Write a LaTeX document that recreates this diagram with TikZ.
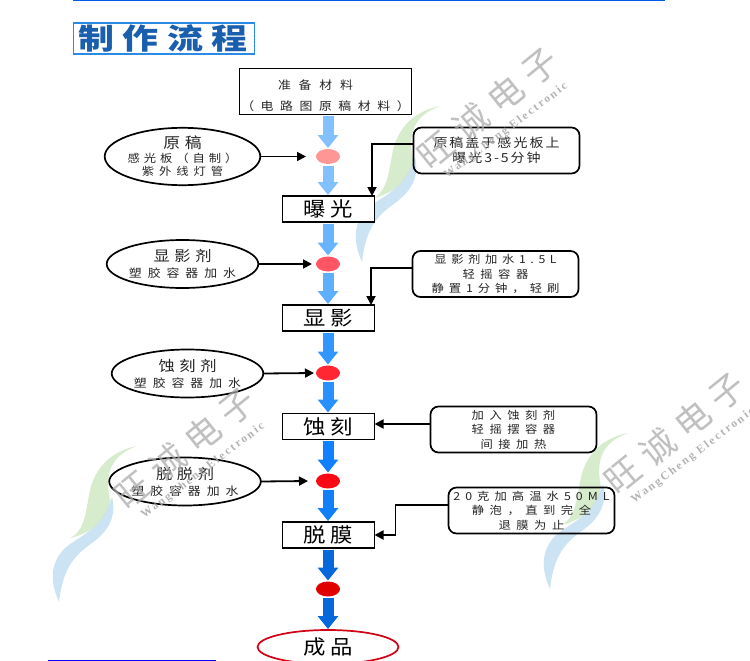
\documentclass[tikz,border=0pt]{standalone}
\usepackage{fontspec}
\usetikzlibrary{shapes.geometric,arrows.meta}
\setmainfont{Noto Sans CJK SC}
\newfontfamily\wmserif{Liberation Serif}
\newcommand{\lsp}[2]{\fontsize{#1}{#1}\selectfont\addfontfeature{LetterSpace=#2,FakeStretch=1.12}}
\definecolor{titleblue}{HTML}{1A5FAE}
\definecolor{leafgreen}{HTML}{D3E9C8}
\definecolor{leafblue}{HTML}{C6E0F2}
\definecolor{wmgray}{HTML}{ABABAB}
\tikzset{
  every node/.style={inner sep=0pt,outer sep=0pt},
  startbox/.style={draw=black,line width=1.8pt,fill=white,minimum width=172pt,minimum height=46pt,align=center,text=black!85},
  stepbox/.style={draw=black,line width=1.7pt,fill=white,minimum width=92pt,minimum height=26pt,align=center,font=\lsp{20}{22}},
  noteoval/.style={draw=black,line width=1.7pt,ellipse,minimum width=150pt,minimum height=48pt,align=center,text=black!85},
  notebox/.style={draw=black,line width=1.7pt,rounded corners=8pt,minimum width=166pt,minimum height=46pt,align=center,text=black!85,font=\lsp{11}{50}},
  dotnode/.style={ellipse,minimum width=24pt,minimum height=15pt},
  blk/.style={line width=11pt,-{Triangle[length=13pt,width=20pt]}},
  conn/.style={draw=black,line width=1.8pt,-{Triangle[length=9pt,width=9pt]}},
}
\newcommand{\leafmark}[2]{%
  \begin{scope}[shift={(#1,#2)}]
    \fill[leafblue,opacity=.9] (415,157) .. controls (420,178) and (410,192) .. (395,203)
       .. controls (380,214) and (366,225) .. (362,262)
       .. controls (352,240) and (354,222) .. (368,208)
       .. controls (382,196) and (402,192) .. (415,157) -- cycle;
    \fill[leafgreen,opacity=.9] (440,106) .. controls (410,112) and (396,132) .. (392,155)
       .. controls (388,178) and (386,192) .. (373,198)
       .. controls (392,194) and (408,182) .. (413,160)
       .. controls (408,136) and (412,116) .. (440,106) -- cycle;
  \end{scope}}
\newcommand{\textmark}[2]{%
  \begin{scope}[shift={(#1,#2)}]
    \node[rotate=39,text=wmgray,opacity=.75,font=\fontsize{35}{35}\selectfont\addfontfeature{LetterSpace=28}] at (488,108) {旺诚电子};
    \node[rotate=37,text=wmgray,opacity=.9,font=\wmserif\fontsize{11.5}{11.5}\selectfont\bfseries\addfontfeature{LetterSpace=18}] at (506,131) {WangCheng Electronic};
  \end{scope}}
\begin{document}
\begin{tikzpicture}[x=1pt,y=-1pt]
\useasboundingbox[fill=white] (0,0) rectangle (750,661);
\leafmark{0}{0}
\leafmark{-303}{340}
\leafmark{188}{327}

\draw[line width=1.5pt,draw=blue!60!cyan!90!black] (73,0.7) -- (665,0.7);
\draw[line width=1.5pt,draw=blue] (48,660.3) -- (216,660.3);

\node[draw={rgb,255:red,42;green,138;blue,230},line width=1.5pt,minimum width=181pt,minimum height=31pt] (title) at (164,38.5) {};
\node[text=titleblue,font=\fontsize{29}{29}\selectfont\bfseries\addfontfeature{LetterSpace=28,FakeStretch=1.24}] (titletext) at (163,38) {制作流程};

\node[startbox] (start) at (325.5,91.5) {\rule{0pt}{18pt}{\lsp{11.5}{68}准备材料}\hspace*{20pt}\\[8.5pt]{\lsp{11.5}{57}（电路图原稿材料）}};
\node[stepbox] (s1) at (328.5,209) {曝光};
\node[stepbox] (s2) at (328.5,318) {显影};
\node[stepbox] (s3) at (328.5,426.5) {蚀刻};
\node[stepbox] (s4) at (328.5,535) {脱膜};
\node[draw={rgb,255:red,210;green,0;blue,20},line width=1.7pt,ellipse,minimum width=141pt,minimum height=34pt,font=\lsp{20}{22}] (end) at (328,647) {成品};

\node[dotnode,fill={rgb,255:red,255;green,150;blue,150}] (d1) at (328,156.5) {};
\node[dotnode,fill={rgb,255:red,255;green,85;blue,100}] (d2) at (328,264) {};
\node[dotnode,fill={rgb,255:red,255;green,40;blue,50}] (d3) at (328,373) {};
\node[dotnode,fill={rgb,255:red,250;green,10;blue,20}] (d4) at (328,481) {};
\node[dotnode,fill={rgb,255:red,225;green,0;blue,0}] (d5) at (328,589) {};

\begin{scope}[shorten <=1.5pt,shorten >=1pt]
\draw[blk,draw={rgb,255:red,130;green,192;blue,255}] (d1.north |- start.south) -- (d1.north);
\draw[blk,draw={rgb,255:red,130;green,192;blue,255}] (d1.south) -- (d1.south |- s1.north);
\draw[blk,draw={rgb,255:red,105;green,180;blue,255}] (d2.north |- s1.south) -- (d2.north);
\draw[blk,draw={rgb,255:red,95;green,175;blue,255}] (d2.south) -- (d2.south |- s2.north);
\draw[blk,draw={rgb,255:red,50;green,150;blue,255}] (d3.north |- s2.south) -- (d3.north);
\draw[blk,draw={rgb,255:red,40;green,145;blue,255}] (d3.south) -- (d3.south |- s3.north);
\draw[blk,draw={rgb,255:red,15;green,128;blue,255}] (d4.north |- s3.south) -- (d4.north);
\draw[blk,draw={rgb,255:red,15;green,128;blue,250}] (d4.south) -- (d4.south |- s4.north);
\draw[blk,draw={rgb,255:red,5;green,105;blue,220}] (d5.north |- s4.south) -- (d5.north);
\draw[blk,draw={rgb,255:red,5;green,105;blue,220}] (d5.south) -- (d5.south |- end.north);
\end{scope}

\node[noteoval] (o1) at (182.5,156.5) {{\lsp{15}{32}原稿}\\[2pt]{\lsp{11}{36}感光板（自制）}\\[1pt]{\lsp{11}{45}紫外线灯管}};
\node[noteoval] (o2) at (182.5,264) {{\lsp{14.5}{32}显影剂}\\[4pt]{\lsp{11.5}{52}塑胶容器加水}};
\node[noteoval] (o3) at (187.5,373.5) {{\lsp{14.5}{32}蚀刻剂}\\[4pt]{\lsp{11.5}{52}塑胶容器加水}};
\node[noteoval] (o4) at (185,481.5) {{\lsp{14.5}{32}脱脱剂}\\[4pt]{\lsp{11.5}{52}塑胶容器加水}};

\draw[conn] (o1.east) -- ([xshift=-10pt]d1.west);
\draw[conn] (o2.east) -- ([xshift=-4pt]d2.west);
\draw[conn] (o3.east) -- ([xshift=-2pt]d3.west);
\draw[conn] (o4.east) -- ([xshift=-8pt]d4.west);

\node[notebox] (c1) at (496.5,150.5) {{\lsp{12.5}{16}原稿盖于感光板上}\\[2.5pt]{\lsp{12.5}{16}曝光3-5分钟}};
\node[notebox] (c2) at (495.5,274) {\lsp{11}{42}显影剂加水1.5L\\[3.5pt]\lsp{11}{50}轻摇容器\\[3.5pt]\lsp{11}{45}静置1分钟，轻刷};
\node[notebox] (c3) at (513.5,429.5) {加入蚀刻剂\\[3.5pt]轻摇摆容器\\[3.5pt]间接加热};
\node[notebox] (c4) at (531.5,510.5) {\lsp{11}{46}20克加高温水50ML\\[3.5pt]静泡，直到完全\\[3.5pt]退膜为止};

\draw[conn] ([yshift=6.5pt]c1.west) -| ([xshift=43.5pt]s1.north);
\draw[conn] ([yshift=6pt]c2.west) -| ([xshift=42.5pt]s2.north);
\draw[conn] ([yshift=5.5pt]c3.west) -- ([yshift=2.5pt]s3.east);
\draw[conn] ([yshift=5.5pt]c4.west) -- +(-53pt,0) |- (s4.east);

\textmark{0}{0}
\textmark{-303}{340}
\textmark{187}{325}
\end{tikzpicture}
\end{document}
